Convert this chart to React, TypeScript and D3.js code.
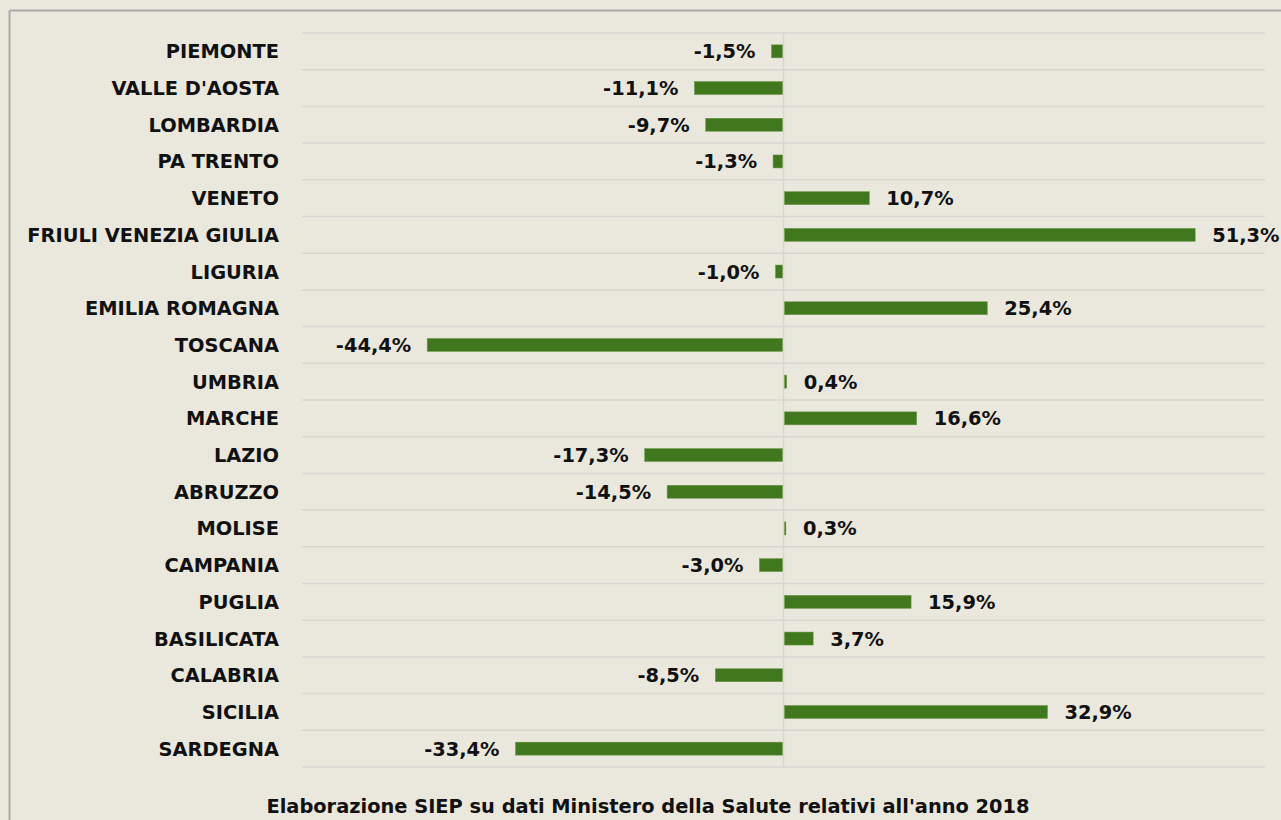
import React from "react";
import * as d3 from "d3";

const regions = [
  "PIEMONTE",
  "VALLE D'AOSTA",
  "LOMBARDIA",
  "PA TRENTO",
  "VENETO",
  "FRIULI VENEZIA GIULIA",
  "LIGURIA",
  "EMILIA ROMAGNA",
  "TOSCANA",
  "UMBRIA",
  "MARCHE",
  "LAZIO",
  "ABRUZZO",
  "MOLISE",
  "CAMPANIA",
  "PUGLIA",
  "BASILICATA",
  "CALABRIA",
  "SICILIA",
  "SARDEGNA",
];
const values = [
  -1.5, -11.1, -9.7, -1.3, 10.7, 51.3, -1.0, 25.4, -44.4, 0.4, 16.6, -17.3,
  -14.5, 0.3, -3.0, 15.9, 3.7, -8.5, 32.9, -33.4,
];
const xDomain = [-60, 60];
const caption =
  "Elaborazione SIEP su dati Ministero della Salute relativi all'anno 2018";

const W = 1281;
const H = 820;
const FONT = "'DejaVu Sans', Verdana, sans-serif";
const FS = 19.4;

export default function App() {
  const x = d3.scaleLinear().domain(xDomain).range([302, 1265]);
  const y = d3.scaleBand<string>().domain(regions).range([33, 767]).padding(0);
  const barH = 13;
  const fmt = (v: number) => v.toFixed(1).replace(".", ",") + "%";
  const x0 = x(0);

  return (
    <div style={{ position: "absolute", left: 0, top: 0 }}>
      <svg width={W} height={H} style={{ display: "block" }}>
        <rect x={0} y={0} width={W} height={H} fill="#EAE7DD" />
        <line x1={9.5} y1={10.5} x2={W} y2={10.5} stroke="#A9A9A9" strokeWidth={2} />
        <line x1={9.5} y1={10.5} x2={9.5} y2={H} stroke="#A9A9A9" strokeWidth={2} />
        {d3.range(regions.length + 1).map((i) => {
          const yy = 33 + i * y.step();
          return (
            <line key={i} x1={302} x2={1265} y1={yy} y2={yy} stroke="#D8D6D2" strokeWidth={1.5} />
          );
        })}
        <line x1={x0} x2={x0} y1={33} y2={767} stroke="#D8D6D2" strokeWidth={1.5} />
        {regions.map((r, i) => {
          const v = values[i];
          const cy = (y(r) as number) + y.bandwidth() / 2;
          const xs = v < 0 ? x(v) : x0 + 1;
          const xe = v < 0 ? x0 - 1 : x(v);
          return (
            <g key={r}>
              <rect
                x={xs}
                y={cy - barH / 2}
                width={Math.max(1, xe - xs)}
                height={barH}
                fill="#41781D"
                stroke="#6E9A4E"
                strokeWidth={0.5}
              />
              <text
                x={279}
                y={cy}
                dy="0.36em"
                textAnchor="end"
                fontFamily={FONT}
                fontWeight="bold"
                fontSize={FS}
                fill="#111"
              >
                {r}
              </text>
              <text
                x={v < 0 ? xs - 16 : xe + 17}
                y={cy}
                dy="0.36em"
                textAnchor={v < 0 ? "end" : "start"}
                fontFamily={FONT}
                fontWeight="bold"
                fontSize={FS}
                fill="#111"
              >
                {fmt(v)}
              </text>
            </g>
          );
        })}
        <text
          x={648}
          y={806}
          dy="0.36em"
          textAnchor="middle"
          fontFamily={FONT}
          fontWeight="bold"
          fontSize={FS}
          fill="#111"
        >
          {caption}
        </text>
      </svg>
    </div>
  );
}
